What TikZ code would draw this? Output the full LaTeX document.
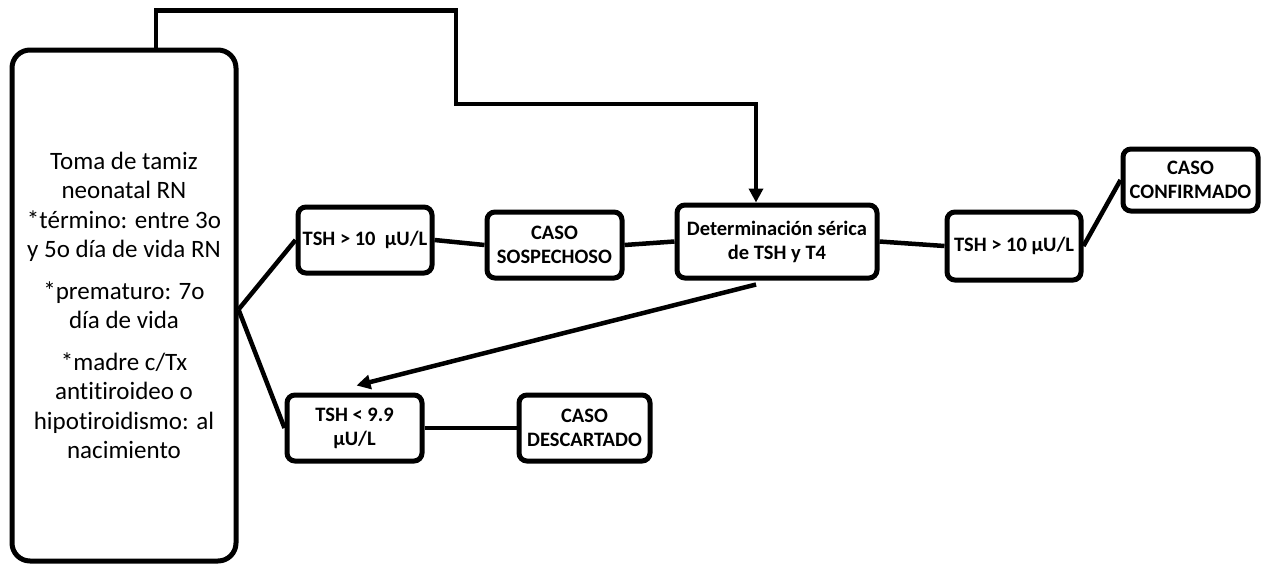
\documentclass[tikz,border=0pt]{standalone}
\usepackage{fontspec}
\setmainfont[Ligatures=NoCommon]{Carlito}
\usetikzlibrary{arrows.meta}

\begin{document}
\begin{tikzpicture}[x=1pt,y=-1pt,
  box/.style={draw,line width=5pt,rounded corners=8pt,inner sep=1pt,align=center,
    font=\bfseries\fontsize{20.5}{24}\selectfont},
  conn/.style={line width=4.5pt},
  tip/.style={-{Triangle[width=14pt,length=14pt]}}]
\useasboundingbox (0,0) rectangle (1267,566);
\node[draw,line width=5pt,rounded corners=18pt,minimum width=224pt,minimum height=511pt,align=center,
  font=\fontsize{25}{29.5}\selectfont] (toma) at (124,305.5)
  {Toma de tamiz\\neonatal RN\\*término: entre 3o\\y 5o día de vida RN\\[12pt]
   *prematuro: 7o\\día de vida\\[12pt]*madre c/Tx\\antitiroideo o\\hipotiroidismo: al\\nacimiento};
\node[box,minimum width=134pt,minimum height=66pt] (tsh1) at (365,240) {TSH > 10\ \ μU/L};
\node[box,minimum width=135pt,minimum height=66pt] (sosp) at (554.5,245) {CASO\\SOSPECHOSO};
\node[box,minimum width=200pt,minimum height=73pt] (det) at (777,241.5) {Determinación sérica\\de TSH y T4};
\node[box,minimum width=134pt,minimum height=68pt] (tsh3) at (1014,246) {TSH > 10 μU/L};
\node[box,minimum width=135pt,minimum height=62pt] (conf) at (1190.5,180) {CASO\\CONFIRMADO};
\node[box,minimum width=135pt,minimum height=66pt] (tsh2) at (354.5,428) {TSH < 9.9\\μU/L};
\node[box,minimum width=131pt,minimum height=66pt] (desc) at (584.5,428) {CASO\\DESCARTADO};
% ramas desde el tamiz
\coordinate (jn) at ([yshift=-4pt]toma.east);
\draw[conn] (jn) -- (tsh1.west);
\draw[conn] (jn) -- (tsh2.west);
\draw[conn] (tsh1.east) -- (sosp.west);
\draw[conn] (sosp.east) -- (det.west);
\draw[conn] (det.east) -- (tsh3.west);
\draw[conn] (tsh3.east) -- (conf.west);
\draw[conn] (tsh2.east) -- (desc.west);
% flechas
\draw[conn,tip] ([xshift=32pt]toma.north) -- ++(0,-37) -| (456,104) -| ([xshift=-21pt]det.north);
\draw[conn,tip] ([xshift=-21pt,yshift=-4pt]det.south) -- ([xshift=2pt,yshift=7pt]tsh2.north);
\end{tikzpicture}
\end{document}
